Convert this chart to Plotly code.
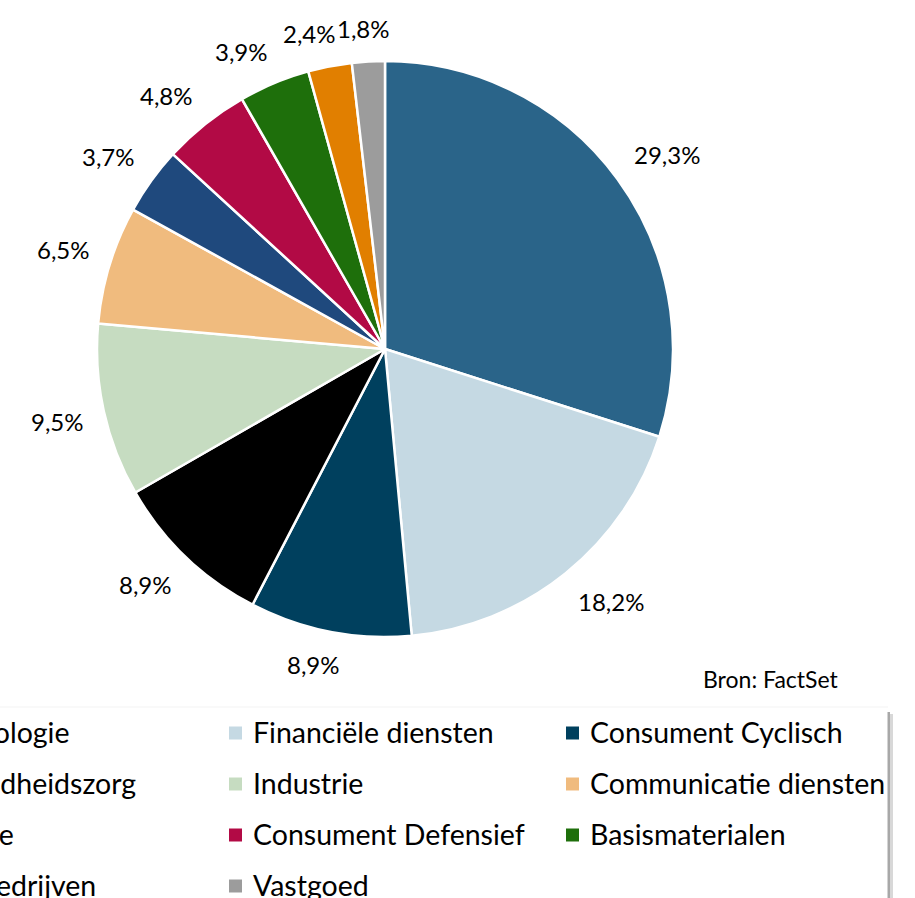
import math
import plotly.graph_objects as go

# ---- data ----
categories = ["Technologie", "Financiële diensten", "Consument Cyclisch",
              "Gezondheidszorg", "Industrie", "Communicatie diensten",
              "Energie", "Consument Defensief", "Basismaterialen",
              "Nutsbedrijven", "Vastgoed"]
weights = [29.3, 18.2, 8.9, 8.9, 9.5, 6.5, 3.7, 4.8, 3.9, 2.4, 1.8]
colors = ["#2A6489", "#C5D9E3", "#00405E", "#000000", "#C6DCC1", "#F0BB7E",
          "#1F497D", "#B20A45", "#1E6F0B", "#E17F00", "#9C9C9C"]
source_text = "Bron: FactSet"

W, H = 915, 898
FONT = "Lato"


def px(x):
    return x / W


def py(y):
    return 1 - y / H


cx, cy, r = 385, 349, 288

fig = go.Figure()
fig.add_trace(go.Pie(
    labels=categories,
    values=weights,
    sort=False,
    direction="clockwise",
    rotation=0,
    marker=dict(colors=colors, line=dict(color="white", width=2.5)),
    textinfo="none",
    domain=dict(x=[px(cx - r), px(cx + r)], y=[py(cy + r), py(cy - r)]),
    showlegend=False,
    hoverinfo="label+value",
))

annotations = []

# ---- data labels outside the slices (placed beyond each slice's mid-angle) ----
def clamp(v):
    return max(-1.0, min(1.0, v))


total = sum(weights)
cum = 0.0
placed = []
for v in weights:
    mid = (cum + v / 2) / total * 2 * math.pi
    cum += v
    label = f"{v:.1f}".replace(".", ",") + "%"
    hw = len(label) * 6.4
    hh = 12
    s, c = math.sin(mid), -math.cos(mid)
    rr = r + 21
    lx = cx + rr * s + hw * clamp(2.5 * s)
    ly = cy + rr * c + hh * clamp(2.5 * c)
    placed.append([label, lx, ly, hw, hh])

# resolve overlaps between neighbouring labels (shift the earlier one sideways)
for i in range(len(placed) - 2, -1, -1):
    a, b = placed[i], placed[i + 1]
    if abs(a[2] - b[2]) < a[4] + b[4]:
        need = a[3] + b[3] + 3
        if abs(a[1] - b[1]) < need:
            a[1] = b[1] - need if a[1] <= b[1] else b[1] + need

for label, lx, ly, hw, hh in placed:
    annotations.append(dict(text=label, xref="paper", yref="paper",
                            x=px(lx), y=py(ly), xanchor="center", yanchor="middle",
                            showarrow=False,
                            font=dict(family=FONT, size=24, color="#000000")))

# ---- manual legend (3 columns, row-major, left column cropped) ----
shapes = []
col_text_x = [-80, 253, 590]
row_y = [733, 784, 835, 886]
for i, (lab, col) in enumerate(zip(categories, colors)):
    row, c = divmod(i, 3)
    tx = col_text_x[c]
    yy = row_y[row]
    shapes.append(dict(type="rect", xref="paper", yref="paper",
                       x0=px(tx - 24), x1=px(tx - 11),
                       y0=py(yy + 6.5), y1=py(yy - 6.5),
                       fillcolor=col, line=dict(width=0)))
    annotations.append(dict(text=lab, xref="paper", yref="paper",
                            x=px(tx - 2), y=py(yy - 1), xanchor="left", yanchor="middle",
                            showarrow=False,
                            font=dict(family=FONT, size=28.5, color="#000000")))

# legend box shadow on right edge
shapes.append(dict(type="rect", xref="paper", yref="paper",
                   x0=px(887.5), x1=px(890), y0=py(H), y1=py(712),
                   fillcolor="#A8A8A8", line=dict(width=0)))
shapes.append(dict(type="rect", xref="paper", yref="paper",
                   x0=px(890), x1=px(893), y0=py(H), y1=py(714),
                   fillcolor="#D8D8D8", line=dict(width=0)))
shapes.append(dict(type="line", xref="paper", yref="paper",
                   x0=0, x1=px(888), y0=py(707), y1=py(707),
                   line=dict(color="#F3F3F3", width=1)))

annotations.append(dict(text=source_text, xref="paper", yref="paper",
                        x=px(841), y=py(679), xanchor="right", yanchor="middle",
                        showarrow=False,
                        font=dict(family=FONT, size=23, color="#000000")))

fig.update_layout(
    width=W, height=H,
    margin=dict(l=0, r=0, t=0, b=0, autoexpand=False),
    paper_bgcolor="white", plot_bgcolor="white",
    separators=",.",
    shapes=shapes,
    annotations=annotations,
    showlegend=False,
)

fig.write_html("out.html",
               config={"displayModeBar": False},
               post_script="document.body.style.margin='0';document.body.style.overflow='hidden';")
